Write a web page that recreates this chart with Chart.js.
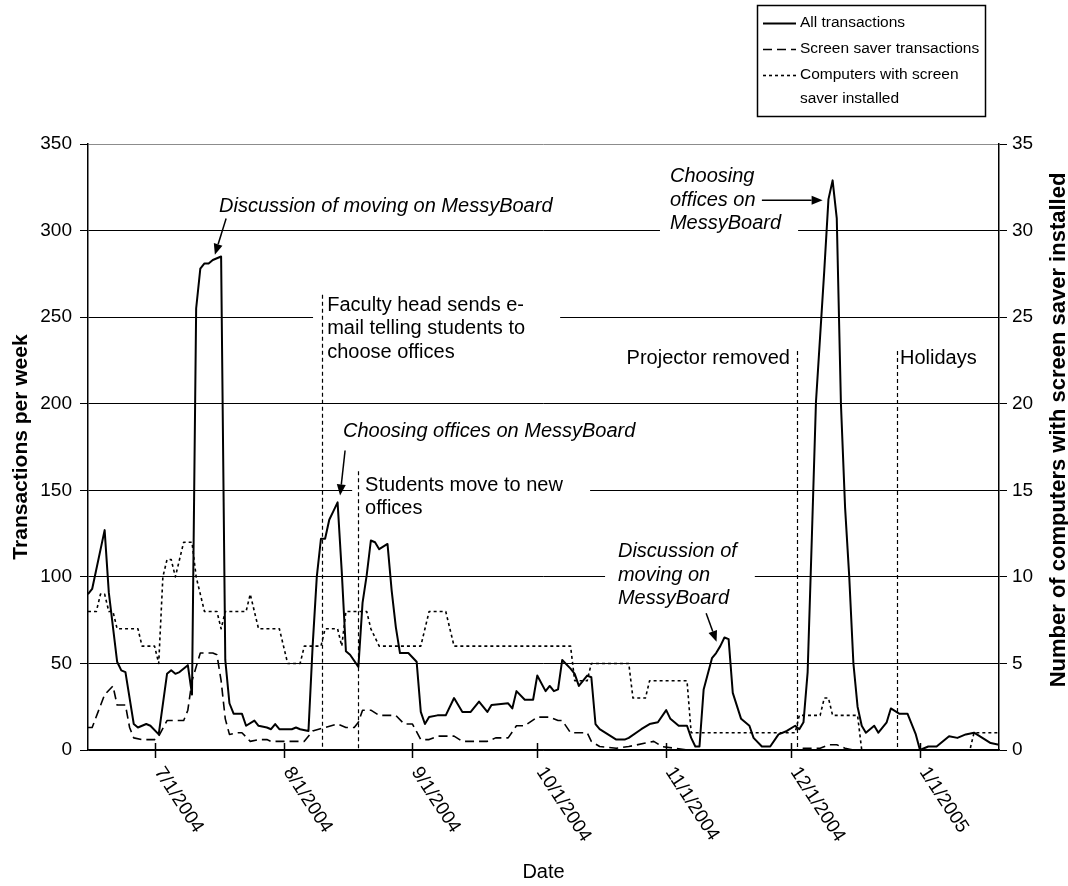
<!DOCTYPE html>
<html>
<head>
<meta charset="utf-8">
<title>MessyBoard transactions per week</title>
<script src="https://cdn.jsdelivr.net/npm/chart.js@4.4.0/dist/chart.umd.min.js"></script>
<style>
  html, body { margin: 0; padding: 0; background: #fff; }
  #chart { display: block; }
</style>
</head>
<body>
<canvas id="chart" width="1068" height="886"></canvas>
<script>
const FONT = "'Liberation Sans', Arial, Helvetica, sans-serif"

// x values are days counted from 6/15/2004
const START = Date.UTC(2004, 5, 15)

const monthLabels = ['7/1/2004', '8/1/2004', '9/1/2004', '10/1/2004', '11/1/2004', '12/1/2004', '1/1/2005']

// all transactions (per week)
const allDays = [0, 1, 4, 5, 7, 8, 9, 11, 12, 14, 15, 17, 19, 20, 21, 22, 24, 25, 26, 27, 28, 29, 30, 31, 32, 33, 34, 35, 37, 38,
  40, 41, 43, 44, 45, 46, 49, 50, 51, 53, 54, 55, 56, 57, 58, 59, 60, 61, 62, 63, 65, 66, 67, 68, 69, 70, 72, 73, 74, 75,
  77, 79, 80, 81, 82, 84, 86, 88, 90, 92, 94, 96, 97, 101, 102, 103, 105, 107, 108, 110, 111, 112, 113, 114, 116, 117, 118, 120, 121, 122,
  123, 125, 127, 129, 130, 133, 135, 137, 139, 140, 142, 144, 145, 146, 147, 148, 150, 151, 152, 153, 154, 155, 157, 159, 160, 162, 164, 166, 168, 170,
  171, 172, 173, 174, 175, 177, 178, 179, 180, 181, 182, 183, 184, 185, 186, 187, 189, 190, 192, 193, 195, 197, 199, 200, 202, 204, 207, 209, 211, 213,
  215, 217, 219]
const allWeekly = [90, 93, 127, 91, 51, 46, 45, 15, 13, 15, 14, 9, 44, 46, 44, 45, 49, 32, 255, 278, 281, 281, 283, 284, 285, 52, 27, 21, 21, 14,
  17, 14, 13, 12, 15, 12, 12, 13, 12, 11, 60, 100, 122, 122, 133, 138, 143, 103, 57, 55, 48, 85, 101, 121, 120, 116, 119, 92, 71, 56,
  56, 51, 22, 15, 19, 20, 20, 30, 22, 22, 28, 22, 26, 27, 24, 34, 29, 29, 43, 34, 37, 34, 35, 52, 47, 44, 37, 43, 42, 15,
  12, 9, 6, 6, 7, 12, 15, 16, 23, 18, 14, 14, 7, 2, 2, 35, 53, 56, 60, 65, 64, 33, 18, 14, 7, 2, 2, 9, 11, 14,
  12, 16, 45, 122, 201, 277, 318, 329, 307, 200, 140, 100, 50, 25, 14, 10, 14, 10, 16, 24, 21, 21, 9, 0, 2, 2, 8, 7, 9, 10,
  7, 4, 3]

// screen saver transactions (per week)
const saverDays = [0, 1, 4, 6, 7, 9, 10, 11, 13, 16, 17, 19, 23, 24, 25, 27, 30, 31, 32, 33, 34, 36, 37, 39, 41, 43, 44, 47, 52, 54,
  57, 60, 62, 64, 65, 66, 68, 70, 74, 76, 78, 80, 82, 84, 88, 90, 96, 98, 101, 103, 105, 108, 111, 113, 114, 116, 120, 121, 123, 127,
  130, 134, 136, 138, 141, 144, 170, 172, 176, 178, 180, 182, 184, 219]
const saverWeekly = [13, 13, 32, 37, 26, 26, 13, 7, 6, 6, 8, 17, 17, 23, 40, 56, 56, 55, 40, 18, 9, 10, 10, 5, 6, 6, 5, 5, 5, 11,
  13, 15, 13, 13, 16, 23, 23, 20, 20, 15, 15, 6, 6, 8, 8, 5, 5, 7, 7, 14, 14, 19, 19, 17, 17, 10, 10, 5, 2, 1,
  2, 4, 5, 2, 1, 0, 0, 1, 1, 3, 3, 1, 0, 0]

// computers with the screen saver installed
const installDays = [0, 2, 3, 4, 5, 6, 7, 12, 13, 16, 17, 18, 19, 20, 21, 22, 23, 25, 26, 27, 28, 31, 32, 33, 38, 39, 41, 46, 47, 48,
  51, 52, 56, 57, 60, 61, 62, 67, 68, 70, 80, 81, 82, 86, 87, 88, 116, 117, 120, 121, 130, 131, 134, 135, 144, 145, 170, 171, 176, 177,
  178, 179, 185, 186, 212, 213, 219]
const installCount = [8, 8, 9, 9, 8, 8, 7, 7, 6, 6, 5, 10, 11, 11, 10, 11, 12, 12, 10, 9, 8, 8, 7, 8, 8, 9, 7, 7, 6, 5,
  5, 6, 6, 7, 7, 6, 8, 8, 7, 6, 6, 7, 8, 8, 7, 6, 6, 4, 4, 5, 5, 3, 3, 4, 4, 1, 1, 2, 2, 3,
  3, 2, 2, 0, 0, 1, 1]

// callouts: text anchor and boxes in [day, transactions]
const notes = [
  { text: ['Discussion of moving on MessyBoard'], italic: true, at: [31.5, 314], arrow: [[33.2, 307], [30.5, 286]] },
  { text: ['Faculty head sends e-', 'mail telling students to', 'choose offices'], at: [57.5, 257],
    box: [54.1, 268, 113.5, 222], marker: [56.25, 263] },
  { text: ['Choosing offices on MessyBoard'], italic: true, at: [61.3, 184], arrow: [[61.8, 173], [60.6, 147]] },
  { text: ['Students move to new', 'offices'], at: [66.6, 153], box: [63.5, 162, 120.7, 133], marker: [64.9, 161] },
  { text: ['Discussion of', 'moving on', 'MessyBoard'], italic: true, at: [127.4, 114.4],
    box: [124.3, 122.4, 160.3, 78], arrow: [[148.6, 79], [151.1, 62.5]] },
  { text: ['Choosing', 'offices on', 'MessyBoard'], italic: true, at: [139.9, 331],
    box: [137.5, 341, 170.7, 295], arrow: [[162, 317.5], [176.6, 317.5]] },
  { text: ['Projector removed'], align: 'right', at: [168.75, 226.4], marker: [170.4, 230.4] },
  { text: ['Holidays'], at: [195.2, 226.4], marker: [194.5, 230.4] },
]

function dayOf(label) {
  const [m, d, y] = label.split('/').map(Number)
  return (Date.UTC(y, m - 1, d) - START) / 86400000
}

function zip(xs, ys) {
  return xs.map((x, i) => ({ x: x, y: ys[i] }))
}

const calloutPlugin = {
  id: 'callouts',
  beforeDatasetsDraw(chart) {
    const { ctx, scales: { x, y } } = chart
    const px = (d, v) => [x.getPixelForValue(d), y.getPixelForValue(v)]
    ctx.save()
    // white boxes knock out the grid behind the text
    notes.filter(n => n.box).forEach(n => {
      const [x1, y1] = px(n.box[0], n.box[1])
      const [x2, y2] = px(n.box[2], n.box[3])
      ctx.fillStyle = '#fff'
      ctx.fillRect(x1, y1, x2 - x1, y2 - y1)
    })
    // event markers
    ctx.strokeStyle = '#000'
    ctx.lineWidth = 1.2
    ctx.setLineDash([4, 3])
    notes.filter(n => n.marker).forEach(n => {
      const [mx, my] = px(n.marker[0], n.marker[1])
      const xx = Math.round(mx) + 0.5
      ctx.beginPath()
      ctx.moveTo(xx, my)
      ctx.lineTo(xx, y.getPixelForValue(0))
      ctx.stroke()
    })
    ctx.setLineDash([])
    // text
    ctx.fillStyle = '#000'
    ctx.textBaseline = 'middle'
    notes.forEach(n => {
      ctx.font = (n.italic ? 'italic ' : '') + '20px ' + FONT
      ctx.textAlign = n.align || 'left'
      const [tx, ty] = px(n.at[0], n.at[1])
      n.text.forEach((line, i) => ctx.fillText(line, tx, ty + i * 23.5))
    })
    // arrows
    notes.filter(n => n.arrow).forEach(n => {
      const [ax, ay] = px(n.arrow[0][0], n.arrow[0][1])
      const [bx, by] = px(n.arrow[1][0], n.arrow[1][1])
      const ang = Math.atan2(by - ay, bx - ax)
      const head = 11, half = 4.5
      const hx = bx - head * Math.cos(ang), hy = by - head * Math.sin(ang)
      ctx.lineWidth = 1.5
      ctx.beginPath()
      ctx.moveTo(ax, ay)
      ctx.lineTo(hx, hy)
      ctx.stroke()
      ctx.beginPath()
      ctx.moveTo(bx, by)
      ctx.lineTo(hx + half * Math.sin(ang), hy - half * Math.cos(ang))
      ctx.lineTo(hx - half * Math.sin(ang), hy + half * Math.cos(ang))
      ctx.closePath()
      ctx.fill()
    })
    ctx.restore()
  }
}

const axisExtrasPlugin = {
  id: 'axisExtras',
  afterDraw(chart) {
    const { ctx, scales: { x } } = chart
    const base = chart.chartArea.bottom
    ctx.save()
    ctx.strokeStyle = '#000'
    ctx.fillStyle = '#000'
    // month ticks cross the axis, labels run down to the right
    ctx.lineWidth = 1.5
    x.ticks.forEach((t, i) => {
      const tx = Math.round(x.getPixelForValue(t.value)) + 0.5
      ctx.beginPath()
      ctx.moveTo(tx, base - 7)
      ctx.lineTo(tx, base + 8)
      ctx.stroke()
      ctx.save()
      ctx.translate(tx + 3, base + 19)
      ctx.rotate(57 * Math.PI / 180)
      ctx.font = '19px ' + FONT
      ctx.textAlign = 'left'
      ctx.textBaseline = 'middle'
      ctx.fillText(monthLabels[i], 0, 0)
      ctx.restore()
    })
    // right axis title reads bottom to top
    ctx.save()
    ctx.translate(1059, 430)
    ctx.rotate(-Math.PI / 2)
    ctx.font = 'bold 22px ' + FONT
    ctx.textAlign = 'center'
    ctx.textBaseline = 'middle'
    ctx.fillText('Number of computers with screen saver installed', 0, 0)
    ctx.restore()
    ctx.restore()
  }
}

const legendBoxPlugin = {
  id: 'legendBox',
  afterDraw(chart) {
    const { ctx } = chart
    const rows = [
      { lines: ['All transactions'], ds: 0 },
      { lines: ['Screen saver transactions'], ds: 1 },
      { lines: ['Computers with screen', 'saver installed'], ds: 2 },
    ]
    ctx.save()
    ctx.strokeStyle = '#000'
    ctx.lineWidth = 1.5
    ctx.strokeRect(757.5, 5.5, 228, 111)
    ctx.font = '15.5px ' + FONT
    ctx.fillStyle = '#000'
    ctx.textBaseline = 'middle'
    ctx.textAlign = 'left'
    let ty = 23
    rows.forEach(r => {
      const ds = chart.data.datasets[r.ds]
      ctx.lineWidth = ds.borderWidth
      ctx.setLineDash(ds.borderDash || [])
      ctx.beginPath()
      ctx.moveTo(763, ty + 0.5)
      ctx.lineTo(796, ty + 0.5)
      ctx.stroke()
      ctx.setLineDash([])
      r.lines.forEach((line, i) => ctx.fillText(line, 800, ty + i * 24))
      ty += 26 * r.lines.length
    })
    ctx.restore()
  }
}

Chart.defaults.font.family = FONT
Chart.defaults.color = '#000'

new Chart(document.getElementById('chart'), {
  type: 'line',
  data: {
    datasets: [
      { label: 'All transactions', data: zip(allDays, allWeekly), yAxisID: 'y',
        borderColor: '#000', borderWidth: 2 },
      { label: 'Screen saver transactions', data: zip(saverDays, saverWeekly), yAxisID: 'y',
        borderColor: '#000', borderWidth: 1.6, borderDash: [9, 5] },
      { label: 'Computers with screen saver installed', data: zip(installDays, installCount), yAxisID: 'y1',
        borderColor: '#000', borderWidth: 1.6, borderDash: [3, 3] },
    ]
  },
  options: {
    responsive: false,
    animation: false,
    devicePixelRatio: 1,
    layout: { padding: { top: 144 } },
    elements: {
      point: { radius: 0 },
      line: { tension: 0, fill: false, borderJoinStyle: 'round' }
    },
    plugins: {
      legend: { display: false },
      tooltip: { enabled: false }
    },
    scales: {
      x: {
        type: 'linear',
        min: 0,
        max: 219,
        afterBuildTicks: s => { s.ticks = monthLabels.map(l => ({ value: dayOf(l) })) },
        afterFit: s => { s.height = 136 },
        grid: { display: false },
        border: { color: '#000', width: 1.5 },
        ticks: { display: false },
        title: { display: true, text: 'Date', font: { size: 20 }, padding: { top: 0, bottom: 2 } }
      },
      y: {
        position: 'left',
        min: 0,
        max: 350,
        afterFit: s => { s.width = 88 },
        ticks: { stepSize: 50, padding: 8, font: { size: 19 } },
        grid: {
          color: c => (c.tick && c.tick.value === 350 ? '#8c8c8c' : '#000'),
          lineWidth: 1,
          tickLength: 8,
          tickColor: '#000'
        },
        border: { color: '#000', width: 1.5 },
        title: { display: true, text: 'Transactions per week', font: { size: 21, weight: 'bold' }, padding: { top: 9, bottom: 0 } }
      },
      y1: {
        position: 'right',
        min: 0,
        max: 35,
        afterFit: s => { s.width = 69 },
        ticks: { stepSize: 5, padding: 5, font: { size: 19 } },
        grid: { drawOnChartArea: false, tickLength: 8, color: '#000' },
        border: { color: '#000', width: 1.5 }
      }
    }
  },
  plugins: [calloutPlugin, axisExtrasPlugin, legendBoxPlugin]
})
</script>
</body>
</html>
